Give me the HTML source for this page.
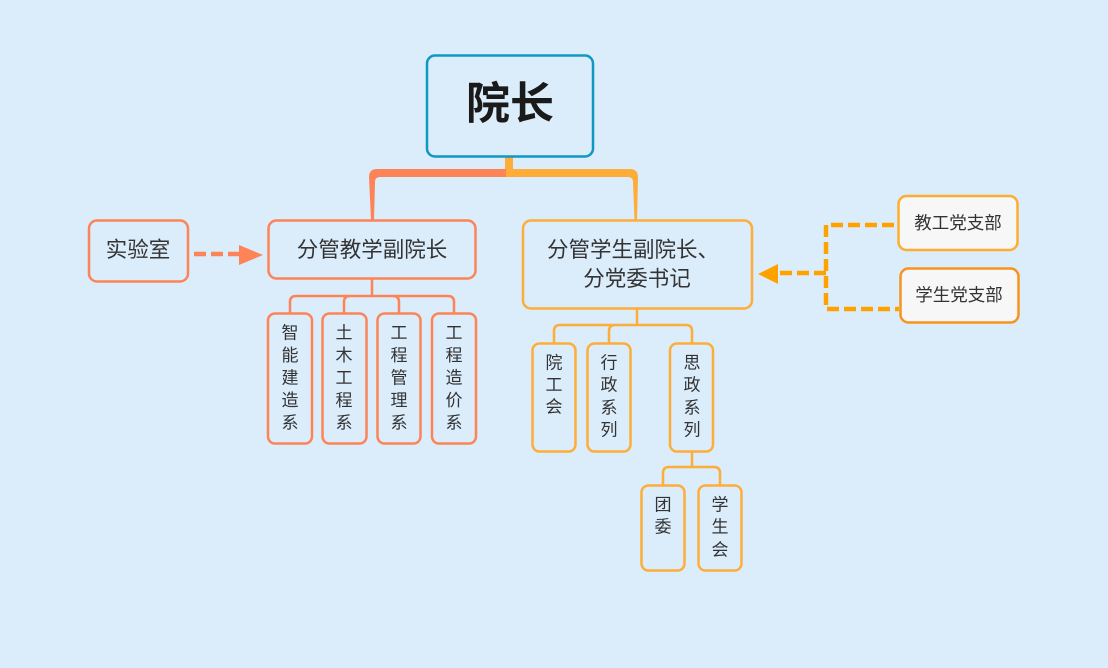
<!DOCTYPE html>
<html><head><meta charset="utf-8"><style>
html,body{margin:0;padding:0;background:#dbecfb;}
svg{display:block;font-family:"Liberation Sans","Noto Sans CJK SC",sans-serif;}
</style></head><body>
<svg width="1108" height="668" viewBox="0 0 1108 668" xmlns="http://www.w3.org/2000/svg">
<rect x="0" y="0" width="1108" height="668" fill="#dbecfb"/>

<!-- root connectors -->
<rect x="505" y="156" width="8" height="15" fill="#fead39"/>
<path d="M507 169 L377 169 Q369 169 369 177 L371 220 L374 220 L375 182 Q375 177 380 177 L507 177 Z" fill="#fd8457"/>
<path d="M506 169 L630 169 Q638 169 638 177 L637 220 L634.5 220 L633 182 Q633 177 628 177 L506 177 Z" fill="#fead39"/>

<!-- root -->
<rect x="427" y="55.5" width="166" height="101" rx="8" fill="#dbecfb" stroke="#0e98c2" stroke-width="2.5"/>
<text x="510" y="104" font-size="44" font-weight="bold" text-anchor="middle" dominant-baseline="central" fill="#1a1a1a">院长</text>

<!-- left branch -->
<rect x="268.5" y="220.5" width="207" height="58" rx="8" fill="#dbecfb" stroke="#fd8457" stroke-width="2.5"/>
<text x="372" y="250" font-size="21.5" text-anchor="middle" dominant-baseline="central" fill="#333">分管教学副院长</text>

<rect x="89" y="220.5" width="99" height="61" rx="8" fill="#dbecfb" stroke="#fd8457" stroke-width="2.5"/>
<text x="138" y="250" font-size="21.5" text-anchor="middle" dominant-baseline="central" fill="#333">实验室</text>

<line x1="194" y1="254" x2="240" y2="254" stroke="#fd8457" stroke-width="4.5" stroke-dasharray="12 5"/>
<polygon points="239,245 263,255 239,265" fill="#fd8457"/>

<!-- left children connectors -->
<g fill="none" stroke="#fd8457" stroke-width="2.5">
<line x1="372" y1="279" x2="372" y2="296"/>
<path d="M290 313 L290 302 Q290 296 296 296 L448 296 Q454 296 454 302 L454 313"/>
<path d="M344 313 L344 302 Q344 296 350 296"/>
<path d="M399 313 L399 302 Q399 296 393 296"/>
</g>
<g fill="#dbecfb" stroke="#fd8457" stroke-width="2.5">
<rect x="268" y="313.5" width="44" height="130" rx="7"/>
<rect x="322.5" y="313.5" width="44" height="130" rx="7"/>
<rect x="377.5" y="313.5" width="43" height="130" rx="7"/>
<rect x="432" y="313.5" width="44" height="130" rx="7"/>
</g>
<g font-size="17" text-anchor="middle" dominant-baseline="central" fill="#333">
<text x="290" y="333">智</text><text x="290" y="355.5">能</text><text x="290" y="378">建</text><text x="290" y="400.5">造</text><text x="290" y="423">系</text>
<text x="344" y="333">土</text><text x="344" y="355.5">木</text><text x="344" y="378">工</text><text x="344" y="400.5">程</text><text x="344" y="423">系</text>
<text x="399" y="333">工</text><text x="399" y="355.5">程</text><text x="399" y="378">管</text><text x="399" y="400.5">理</text><text x="399" y="423">系</text>
<text x="454" y="333">工</text><text x="454" y="355.5">程</text><text x="454" y="378">造</text><text x="454" y="400.5">价</text><text x="454" y="423">系</text>
</g>

<!-- right branch -->
<rect x="523" y="220.5" width="229" height="88" rx="8" fill="#dbecfb" stroke="#fead39" stroke-width="2.5"/>
<text x="633" y="250" font-size="21.5" text-anchor="middle" dominant-baseline="central" fill="#333">分管学生副院长、</text>
<text x="637" y="279" font-size="21.5" text-anchor="middle" dominant-baseline="central" fill="#333">分党委书记</text>

<!-- right children connectors -->
<g fill="none" stroke="#fead39" stroke-width="2.5">
<line x1="637" y1="309" x2="637" y2="325"/>
<path d="M554 343 L554 331 Q554 325 560 325 L686 325 Q692 325 692 331 L692 343"/>
<path d="M609 343 L609 331 Q609 325 615 325"/>
<line x1="692" y1="452" x2="692" y2="467"/>
<path d="M663 485 L663 473 Q663 467 669 467 L714 467 Q720 467 720 473 L720 485"/>
</g>
<g fill="#dbecfb" stroke="#fead39" stroke-width="2.5">
<rect x="532.5" y="343.5" width="43" height="108" rx="7"/>
<rect x="587.5" y="343.5" width="43" height="108" rx="7"/>
<rect x="670" y="343.5" width="43" height="108" rx="7"/>
<rect x="641.5" y="485.5" width="43" height="85" rx="7"/>
<rect x="698.5" y="485.5" width="43" height="85" rx="7"/>
</g>
<g font-size="17" text-anchor="middle" dominant-baseline="central" fill="#333">
<text x="554" y="363">院</text><text x="554" y="385">工</text><text x="554" y="407">会</text>
<text x="609" y="363">行</text><text x="609" y="385">政</text><text x="609" y="408">系</text><text x="609" y="430">列</text>
<text x="692" y="363">思</text><text x="692" y="385">政</text><text x="692" y="408">系</text><text x="692" y="430">列</text>
<text x="663" y="505">团</text><text x="663" y="527">委</text>
<text x="720" y="505">学</text><text x="720" y="527">生</text><text x="720" y="550">会</text>
</g>

<!-- party branches -->
<g fill="none" stroke="#ffa200" stroke-width="4.5" stroke-dasharray="12 5">
<path d="M894 225 L826 225 L826 309 L899 309"/>
<line x1="826" y1="273" x2="776" y2="273"/>
</g>
<polygon points="758,274 778,264 778,284" fill="#ffa200"/>

<rect x="898.5" y="196" width="119" height="54" rx="8" fill="#f7f7f7" stroke="#fdad30" stroke-width="2.5"/>
<text x="958" y="223" font-size="17.5" text-anchor="middle" dominant-baseline="central" fill="#333">教工党支部</text>
<rect x="900.5" y="268.5" width="118" height="54" rx="8" fill="#f7f7f7" stroke="#f7941d" stroke-width="2.5"/>
<text x="959" y="295" font-size="17.5" text-anchor="middle" dominant-baseline="central" fill="#333">学生党支部</text>
</svg>
</body></html>
